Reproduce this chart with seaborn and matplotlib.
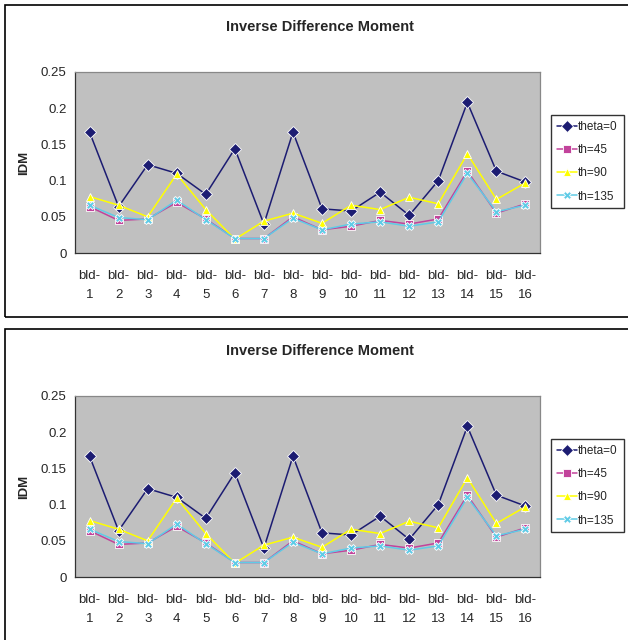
import numpy as np
import pandas as pd
import matplotlib
matplotlib.use("Agg")
import matplotlib.pyplot as plt
from matplotlib.patches import Rectangle
import seaborn as sns

buildings = [f"bld-\n{i}" for i in range(1, 17)]
series_names = ["theta=0", "th=45", "th=90", "th=135"]
theta0 = [0.167, 0.064, 0.122, 0.110, 0.081, 0.144, 0.040, 0.167,
          0.061, 0.058, 0.084, 0.052, 0.100, 0.208, 0.113, 0.098]
th45 = [0.064, 0.045, 0.047, 0.070, 0.047, 0.020, 0.020, 0.050,
        0.032, 0.037, 0.045, 0.040, 0.047, 0.113, 0.055, 0.068]
th90 = [0.078, 0.066, 0.050, 0.109, 0.060, 0.019, 0.044, 0.055,
        0.041, 0.066, 0.060, 0.077, 0.068, 0.137, 0.074, 0.097]
th135 = [0.066, 0.049, 0.046, 0.073, 0.046, 0.020, 0.020, 0.048,
         0.032, 0.040, 0.043, 0.037, 0.043, 0.110, 0.057, 0.066]

rows = []
for name, vals in zip(series_names, [theta0, th45, th90, th135]):
    for i, v in enumerate(vals):
        rows.append({"pos": i + 1, "IDM": v, "series": name})
df = pd.DataFrame(rows)

sns.set_style("white")
plt.rcParams["font.family"] = ["Liberation Sans", "DejaVu Sans"]

palette = {"theta=0": "#1c1c72", "th=45": "#c2439b", "th=90": "#ffff00", "th=135": "#5fcbe6"}
markers = {"theta=0": "D", "th=45": "s", "th=90": "^", "th=135": "X"}

W, H = 628, 640
fig = plt.figure(figsize=(W / 100, H / 100), dpi=100)


def draw_chart(top_px):
    # outer border of chart block
    fig.patches.append(Rectangle((5 / W, 1 - (top_px + 312) / H), 640 / W, 312 / H,
                                 transform=fig.transFigure, fill=False,
                                 edgecolor="black", lw=1.2, clip_on=False))
    ax = fig.add_axes([75 / W, 1 - (top_px + 248) / H, 465 / W, 181 / H])
    ax.set_facecolor("#c0c0c0")
    sns.lineplot(data=df, x="pos", y="IDM", hue="series", style="series",
                 palette=palette, markers=markers, dashes=False,
                 markersize=6, linewidth=1.1, markeredgewidth=0.6, ax=ax)
    ax.set_xlim(0.5, 16.5)
    ax.set_ylim(0, 0.25)
    ax.set_yticks([0, 0.05, 0.1, 0.15, 0.2, 0.25])
    ax.set_yticklabels(["0", "0.05", "0.1", "0.15", "0.2", "0.25"], fontsize=9.5)
    ax.set_xticks(np.arange(0.5, 17, 1))
    ax.set_xticklabels([])
    ax.set_xticks(np.arange(1, 17), minor=True)
    ax.set_xticklabels(buildings, minor=True, fontsize=9.5, linespacing=1.85)
    ax.tick_params(axis="x", which="minor", length=0, pad=12)
    ax.tick_params(axis="both", which="major", direction="out", length=4, width=0.8, color="#333333")
    ax.tick_params(axis="y", pad=2)
    ax.set_xlabel("")
    ax.set_ylabel("IDM", fontsize=9.5, fontweight="bold", labelpad=8)
    for side in ["left", "bottom"]:
        ax.spines[side].set_color("#333333")
        ax.spines[side].set_linewidth(0.9)
    for side in ["top", "right"]:
        ax.spines[side].set_color("#888888")
        ax.spines[side].set_linewidth(0.9)
    handles, labels = ax.get_legend_handles_labels()
    ax.get_legend().remove()
    leg = fig.legend(handles, labels, loc="upper left",
                     bbox_to_anchor=(551 / W, 1 - (top_px + 110) / H),
                     fontsize=8.5, frameon=True, fancybox=False, handlelength=1.7,
                     handletextpad=0.1, borderpad=0.5, borderaxespad=0,
                     labelspacing=0.95)
    leg.get_frame().set_edgecolor("black")
    leg.get_frame().set_linewidth(1.0)
    fig.text(320 / W, 1 - (top_px + 22) / H, "Inverse Difference Moment",
             ha="center", va="center", fontsize=10.5, fontweight="bold")


draw_chart(5)
draw_chart(329)

fig.savefig("out.png", dpi=100)
